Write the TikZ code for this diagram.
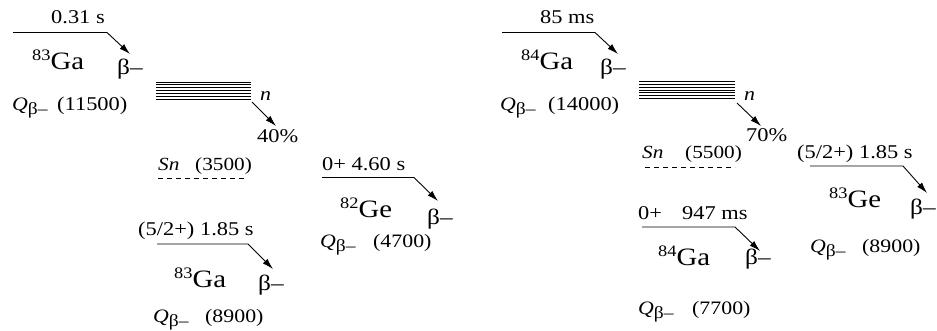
\documentclass[tikz,border=0pt]{standalone}
\usepackage{fontspec}
\usepackage{graphicx}
\setmainfont{Liberation Serif}
\usetikzlibrary{arrows.meta}
\newcommand{\sx}[1]{\scalebox{1.15}[1]{#1}}
\newcommand{\qb}{\sx{\textit{Q}\raisebox{-4pt}{\fontsize{17}{17}\selectfont β–}}}
\newcommand{\nucl}[2]{\sx{\raisebox{9pt}{\fontsize{16}{16}\selectfont #1}#2}}
\tikzset{
  txt/.style={font=\fontsize{19.5}{22}\selectfont, inner sep=0pt, anchor=base west},
  val/.style={font=\fontsize{19}{22}\selectfont, inner sep=0pt, anchor=base west},
  snv/.style={font=\fontsize{18.5}{22}\selectfont, inner sep=0pt, anchor=base west},
  qq/.style={font=\fontsize{19}{22}\selectfont, inner sep=0pt, anchor=base west},
  nuc/.style={font=\fontsize{25}{28}\selectfont, inner sep=0pt, anchor=base west},
  bet/.style={font=\fontsize{22}{24}\selectfont, inner sep=0pt, anchor=base west},
  lvl/.style={line width=0.9pt, -{Latex[length=11pt,width=6.5pt]}},
  stk/.style={line width=0.9pt},
  dsh/.style={line width=0.9pt, dash pattern=on 5pt off 4pt},
}
\begin{document}
\begin{tikzpicture}[x=1pt,y=-1pt]
\useasboundingbox (0,0) rectangle (937,330);
% ---------------- left ----------------
\node[txt] (t1) at (51,23.5) {\sx{0.31 s}};
\coordinate (l1a) at (13,32.5); \coordinate (l1b) at (107,32.5); \coordinate (l1c) at (130,54);
\draw[lvl] (l1a) -- (l1b) -- (l1c);
\node[nuc] (n1) at (32,69.5) {\nucl{83}{Ga}};
\node[bet] (b1) at (117,74) {\sx{β–}};
\node[qq] (q1) at (12,110) {\qb};
\node[txt] (v1) at (57,110) {\sx{(11500)}};
\foreach \i in {0,...,6} {\draw[stk] (156,82+\i*2.83) -- (251,82+\i*2.83);}
\node[txt, font=\fontsize{19}{22}\selectfont\itshape] (nn1) at (260,100) {\sx{n}};
\coordinate (na1) at (252,102); \coordinate (nb1) at (276,126);
\draw[lvl] (na1) -- (nb1);
\node[txt] (p1) at (257,142) {\sx{40\%}};
\node[snv] (sn1) at (158,170) {\sx{\textit{Sn}}};
\node[snv] (sv1) at (195,170) {\sx{(3500)}};
\coordinate (d1a) at (158,178); \coordinate (d1b) at (247,178);
\draw[dsh] (d1a) -- (d1b);
\node[txt] (t2) at (322,170) {\sx{0+ 4.60 s}};
\coordinate (l2a) at (322,177.5); \coordinate (l2b) at (414,177.5); \coordinate (l2c) at (438,201);
\draw[lvl] (l2a) -- (l2b) -- (l2c);
\node[nuc] (n2) at (340,217) {\nucl{82}{Ge}};
\node[bet] (b2) at (427,224) {\sx{β–}};
\node[qq] (q2) at (320,247) {\qb};
\node[val] (v2) at (373,247) {\sx{(4700)}};
\node[txt] (t3) at (138,235) {\sx{(5/2+) 1.85 s}};
\coordinate (l3a) at (157,244); \coordinate (l3b) at (248,244); \coordinate (l3c) at (273,269);
\draw[lvl] (l3a) -- (l3b) -- (l3c);
\node[nuc] (n3) at (174,287) {\nucl{83}{Ga}};
\node[bet] (b3) at (258,290) {\sx{β–}};
\node[qq] (q3) at (153,322) {\qb};
\node[val] (v3) at (205,322) {\sx{(8900)}};
% ---------------- right ----------------
\node[txt] (t4) at (540,23.5) {\sx{85 ms}};
\coordinate (l4a) at (502,32.5); \coordinate (l4b) at (595,32.5); \coordinate (l4c) at (618,54);
\draw[lvl] (l4a) -- (l4b) -- (l4c);
\node[nuc] (n4) at (521,69.5) {\nucl{84}{Ga}};
\node[bet] (b4) at (600,74) {\sx{β–}};
\node[qq] (q4) at (500,110) {\qb};
\node[txt] (v4) at (548,110) {\sx{(14000)}};
\foreach \i in {0,...,6} {\draw[stk] (639,81.5+\i*2.83) -- (735,81.5+\i*2.83);}
\node[txt, font=\fontsize{19}{22}\selectfont\itshape] (nn2) at (744,100) {\sx{n}};
\coordinate (na2) at (737,103); \coordinate (nb2) at (761,126);
\draw[lvl] (na2) -- (nb2);
\node[txt] (p2) at (746,141) {\sx{70\%}};
\node[snv] (sn2) at (642,158) {\sx{\textit{Sn}}};
\node[snv] (sv2) at (685,158) {\sx{(5500)}};
\coordinate (d2a) at (645,167); \coordinate (d2b) at (735,167);
\draw[dsh] (d2a) -- (d2b);
\node[txt] (t5) at (797,158) {\sx{(5/2+) 1.85 s}};
\coordinate (l5a) at (810,166); \coordinate (l5b) at (903,166); \coordinate (l5c) at (927,193);
\draw[lvl] (l5a) -- (l5b) -- (l5c);
\node[nuc] (n5) at (829,207) {\nucl{83}{Ge}};
\node[bet] (b5) at (910,214) {\sx{β–}};
\node[qq] (q5) at (810,252) {\qb};
\node[val] (v5) at (862,252) {\sx{(8900)}};
\node[txt] (t6a) at (638,219) {\sx{0+}};
\node[txt] (t6b) at (682,219) {\sx{947 ms}};
\coordinate (l6a) at (642,227); \coordinate (l6b) at (735,227); \coordinate (l6c) at (760,251);
\draw[lvl] (l6a) -- (l6b) -- (l6c);
\node[nuc] (n6) at (658,265) {\nucl{84}{Ga}};
\node[bet] (b6) at (745,264) {\sx{β–}};
\node[qq] (q6) at (638,314) {\qb};
\node[val] (v6) at (692,314) {\sx{(7700)}};
\end{tikzpicture}
\end{document}
